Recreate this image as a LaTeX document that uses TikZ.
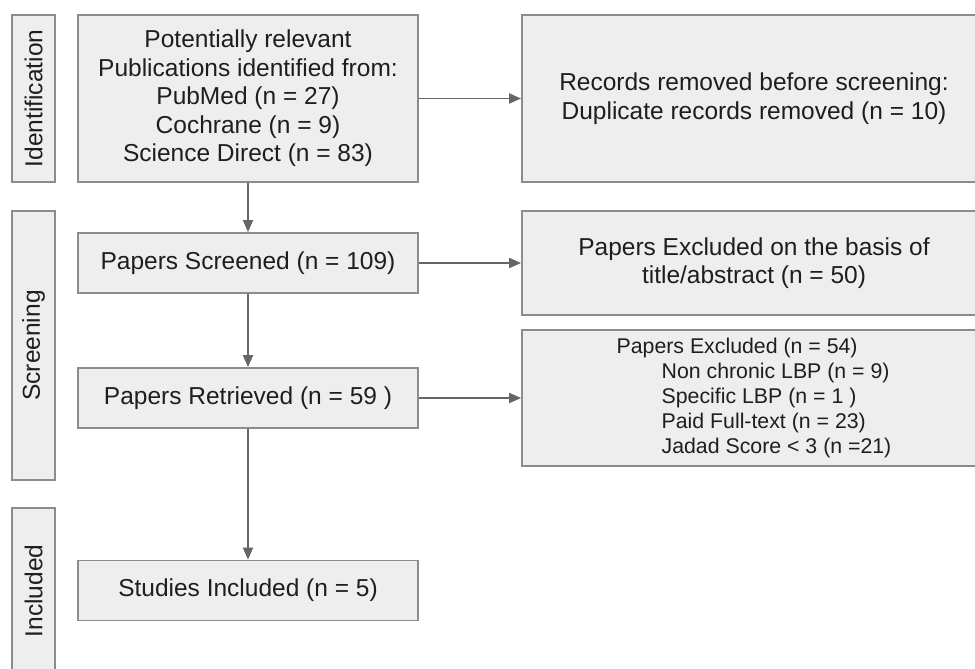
\documentclass[tikz,border=0pt]{standalone}
\usepackage{fontspec}
\setmainfont{Liberation Sans}
\usetikzlibrary{arrows.meta}
\definecolor{boxfill}{HTML}{EEEEEE}
\definecolor{boxline}{HTML}{8C8C8C}
\definecolor{arrline}{HTML}{666666}
\definecolor{txt}{HTML}{1E1E1E}
\tikzset{
  box/.style={draw=boxline, fill=boxfill, line width=1.8pt, rectangle, inner sep=0pt,
    text=txt, align=center, font=\fontsize{24.5}{28.5}\selectfont},
  leftbox/.style={box, minimum width=340pt, minimum height=60pt},
  rightbox/.style={box, minimum width=464pt},
  labelbox/.style={box, minimum width=43pt},
  arr/.style={draw=arrline, line width=1.8pt, -{Triangle[length=12pt,width=10pt]}}
}
\begin{document}
\begin{tikzpicture}[x=1pt,y=-1pt]
\clip (0,0) rectangle (975,669);
\fill[white] (0,0) rectangle (975,669);
% stage labels
\node[labelbox, minimum height=167pt] (lid) at (33.5,98.5) {\rotatebox{90}{Identification}};
\node[labelbox, minimum height=269pt] (lsc) at (33.5,345.5) {\rotatebox{90}{Screening}};
\node[labelbox, minimum height=166pt] (lin) at (33.5,591) {\rotatebox{90}{Included}};
% left column
\node[leftbox, minimum height=167pt] (ident) at (248,98.5) {Potentially relevant\\Publications identified from:\\PubMed (n = 27)\\Cochrane (n = 9)\\Science Direct (n = 83)};
\node[leftbox] (scr) at (248,263) {Papers Screened (n = 109)};
\node[leftbox] (ret) at (248,398) {Papers Retrieved (n = 59 )};
\node[leftbox] (inc) at (248,590.5) {Studies Included (n = 5)};
% right column
\node[rightbox, minimum height=167pt] (rem) at (754,98.5) {Records removed before screening:\\Duplicate records removed (n = 10)};
\node[rightbox, minimum height=104pt] (ex1) at (754,263) {Papers Excluded on the basis of\\title/abstract (n = 50)};
\node[rightbox, minimum height=136pt, align=left, font=\fontsize{21.3}{25}\selectfont] (ex2) at (754,398) {Papers Excluded (n = 54)\\\hspace*{45pt}Non chronic LBP (n = 9)\\\hspace*{45pt}Specific LBP (n = 1 )\\\hspace*{45pt}Paid Full-text (n = 23)\\\hspace*{45pt}Jadad Score < 3 (n =21)};
% connectors
\draw[arr] (ident.east) -- (rem.west);
\draw[arr] (scr.east) -- (ex1.west);
\draw[arr] (ret.east) -- (ex2.west);
\draw[arr] (ident.south) -- (scr.north);
\draw[arr] (scr.south) -- (ret.north);
\draw[arr] (ret.south) -- (inc.north);
\end{tikzpicture}
\end{document}
